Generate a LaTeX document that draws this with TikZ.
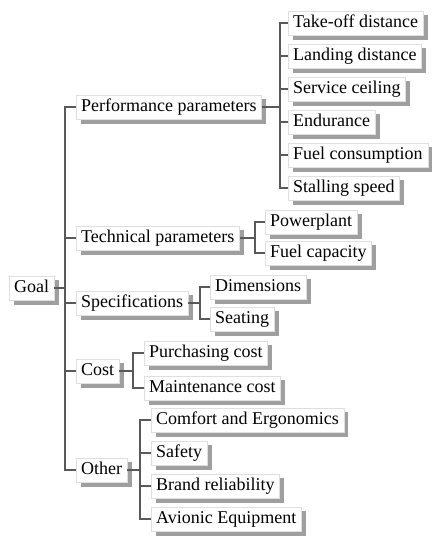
\documentclass[tikz,border=0pt]{standalone}
\usepackage{fontspec}
\setmainfont{Liberation Serif}
\newfontfamily\boxfont{Liberation Serif}
\usetikzlibrary{shadows}
\begin{document}
\begin{tikzpicture}[x=1pt,y=-1pt,
  item/.style={draw=gray!25, fill=white, anchor=west, text=black,
    font=\boxfont\fontsize{18}{21}\selectfont, inner xsep=5pt, inner ysep=4pt,
    text height=12.5pt, text depth=4pt,
    drop shadow={shadow xshift=4.5pt, shadow yshift=-4.5pt, fill=gray!75, opacity=1}},
  link/.style={draw=black!65, line width=1.3pt, line join=miter}]
\useasboundingbox (0,0) rectangle (432,539);

% root and first level
\node[item] (goal) at (9,288) {Goal};
\node[item] (perf) at (76,107) {Performance parameters};
\node[item] (tech) at (76,238) {Technical parameters};
\node[item] (spec) at (76,303) {Specifications};
\node[item] (cost) at (76,371) {Cost};
\node[item] (other) at (76,470) {Other};

% performance parameters
\node[item] (p1) at (288,23) {Take-off distance};
\node[item] (p2) at (288,56) {Landing distance};
\node[item] (p3) at (288,89) {Service ceiling};
\node[item] (p4) at (288,122) {Endurance};
\node[item] (p5) at (288,155) {Fuel consumption};
\node[item] (p6) at (288,188) {Stalling speed};

% technical parameters
\node[item] (t1) at (265,222) {Powerplant};
\node[item] (t2) at (265,253) {Fuel capacity};

% specifications
\node[item] (s1) at (210,287) {Dimensions};
\node[item] (s2) at (210,319) {Seating};

% cost
\node[item] (c1) at (144,353) {Purchasing cost};
\node[item] (c2) at (144,388) {Maintenance cost};

% other
\node[item] (o1) at (151,420) {Comfort and Ergonomics};
\node[item] (o2) at (151,453) {Safety};
\node[item] (o3) at (151,486) {Brand reliability};
\node[item] (o4) at (151,519) {Avionic Equipment};

% bracket columns
\coordinate (bg) at (65,0);
\coordinate (bp) at (280,0);
\coordinate (bt) at (255,0);
\coordinate (bs) at (200,0);
\coordinate (bc) at (133,0);
\coordinate (bo) at (140,0);

% root
\draw[link] (goal.east) -- (goal.east -| bg);
\draw[link] (perf.west) -- (perf.west -| bg) -- (other.west -| bg) -- (other.west);
\foreach \n in {tech,spec,cost} \draw[link] (\n.west) -- (\n.west -| bg);
% performance
\draw[link] (perf.east) -- (perf.east -| bp);
\draw[link] (p1.west) -- (p1.west -| bp) -- (p6.west -| bp) -- (p6.west);
\foreach \n in {p2,p3,p4,p5} \draw[link] (\n.west) -- (\n.west -| bp);
% technical
\draw[link] (tech.east) -- (tech.east -| bt);
\draw[link] (t1.west) -- (t1.west -| bt) -- (t2.west -| bt) -- (t2.west);
% specifications
\draw[link] (spec.east) -- (spec.east -| bs);
\draw[link] (s1.west) -- (s1.west -| bs) -- (s2.west -| bs) -- (s2.west);
% cost
\draw[link] (cost.east) -- (cost.east -| bc);
\draw[link] (c1.west) -- (c1.west -| bc) -- (c2.west -| bc) -- (c2.west);
% other
\draw[link] (other.east) -- (other.east -| bo);
\draw[link] (o1.west) -- (o1.west -| bo) -- (o4.west -| bo) -- (o4.west);
\foreach \n in {o2,o3} \draw[link] (\n.west) -- (\n.west -| bo);
\end{tikzpicture}
\end{document}
